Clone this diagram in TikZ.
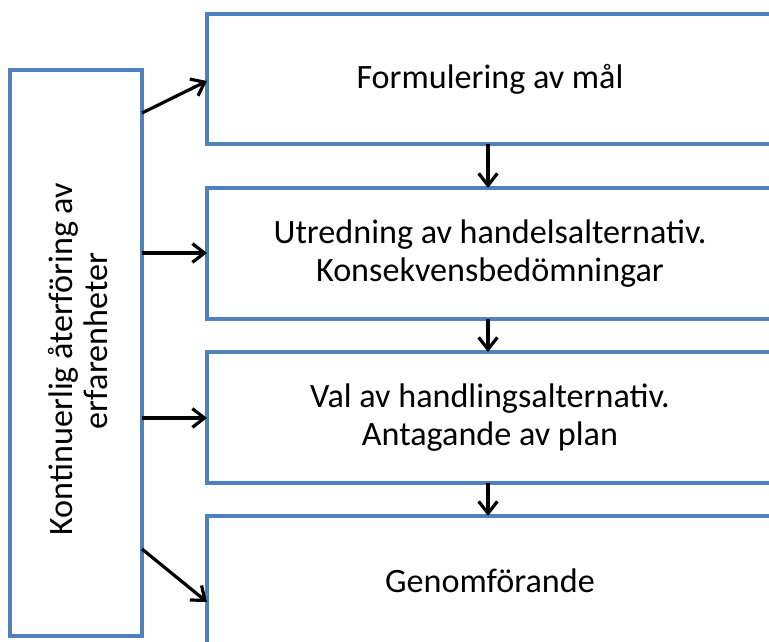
\documentclass[tikz,border=0pt]{standalone}
\usepackage{fontspec}
\setmainfont{Carlito}
\usetikzlibrary{arrows.meta}
\definecolor{boxblue}{HTML}{4F81BD}
\begin{document}
\begin{tikzpicture}[x=0.75pt,y=-0.75pt,
  box/.style={draw=boxblue,line width=2.6pt,fill=white,inner sep=0pt,outer sep=0pt,align=center,
    font={\fontsize{25.6}{28.5}\selectfont}},
  arr/.style={draw=black,line width=2.4pt,-{Straight Barb[length=9pt,width=14pt,line width=2.4pt]}},
  lbl/.style={font={\fontsize{25.6}{28.5}\selectfont},inner sep=0pt,rotate=90,anchor=base}]
\useasboundingbox (0,0) rectangle (769,642);
\clip (0,0) rectangle (769,642);
\node[box,minimum width=424.5pt,minimum height=97.5pt] (b1) at (490,79) {Formulering av mål};
\node[box,minimum width=424.5pt,minimum height=98.25pt] (b2) at (490,253.5) {Utredning av handelsalternativ.\\Konsekvensbedömningar};
\node[box,minimum width=424.5pt,minimum height=98.25pt] (b3) at (490,417.5) {Val av handlingsalternativ.\\Antagande av plan};
\node[box,minimum width=424.5pt,minimum height=97.5pt] (b4) at (490,581) {Genomförande};
\node[box,minimum width=99pt,minimum height=424.5pt] (l) at (76,353) {};
\node[lbl] (t1) at (72,359) {Kontinuerlig återföring av};
\node[lbl] (t2) at (108,341) {erfarenheter};
\draw[arr] (l.east |- 0,113) -- (b1.west |- 0,81);
\draw[arr] (l.east |- 0,253) -- (b2.west |- 0,253);
\draw[arr] (l.east |- 0,418) -- (b3.west |- 0,418);
\draw[arr] (l.east |- 0,549) -- (b4.west |- 0,602);
\draw[arr] (b1.south -| 488,0) -- (b2.north -| 488,0);
\draw[arr] (b2.south -| 488,0) -- (b3.north -| 488,0);
\draw[arr] (b3.south -| 488,0) -- (b4.north -| 488,0);
\end{tikzpicture}
\end{document}
